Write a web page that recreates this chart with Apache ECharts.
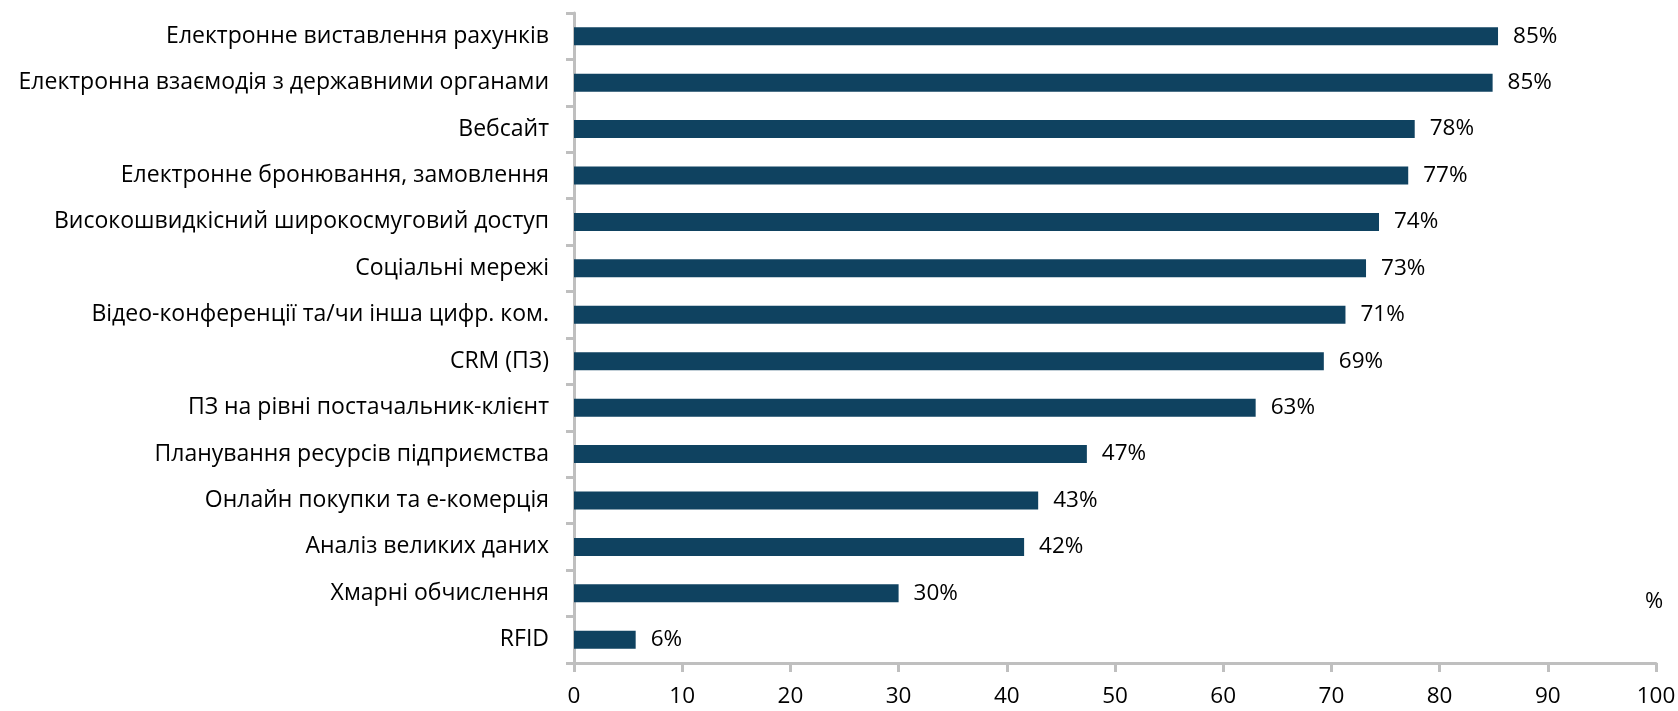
<!DOCTYPE html>
<html>
<head>
<meta charset="utf-8">
<script src="https://cdn.jsdelivr.net/npm/echarts@6/dist/echarts.min.js"></script>
<style>
  html, body { margin: 0; padding: 0; background: #fff; }
  #chart { width: 1678px; height: 711px; }
</style>
</head>
<body>
<div id="chart"></div>
<script>
  // категорії зверху вниз
  const categories = [
    'Електронне виставлення рахунків',
    'Електронна взаємодія з державними органами',
    'Вебсайт',
    'Електронне бронювання, замовлення',
    'Високошвидкісний широкосмуговий доступ',
    'Соціальні мережі',
    'Відео-конференції та/чи інша цифр. ком.',
    'CRM (ПЗ)',
    'ПЗ на рівні постачальник-клієнт',
    'Планування ресурсів підприємства',
    'Онлайн покупки та е-комерція',
    'Аналіз великих даних',
    'Хмарні обчислення',
    'RFID'
  ]
  const values = [85.4, 84.9, 77.7, 77.1, 74.4, 73.2, 71.3, 69.3, 63.0, 47.4, 42.9, 41.6, 30.0, 5.7]
  const xTicks = [0, 10, 20, 30, 40, 50, 60, 70, 80, 90, 100]

  const fontFamily = '"Open Sans", "Noto Sans", sans-serif'
  const axisColor = '#bfbfbf'

  const myChart = echarts.init(document.getElementById('chart'))
  const option = {
    animation: false,
    grid: {
      left: 574,
      right: 22,
      top: 13,
      bottom: 48,
      containLabel: false,
      outerBoundsMode: 'none'
    },
    xAxis: {
      type: 'value',
      min: xTicks[0],
      max: xTicks[xTicks.length - 1],
      interval: 10,
      name: '%',
      nameLocation: 'end',
      nameGap: -2,
      nameTextStyle: {
        color: '#000',
        fontSize: 22,
        fontFamily: fontFamily,
        align: 'center',
        verticalAlign: 'bottom',
        padding: [0, 0, 50, 0]
      },
      axisLine: { show: true, lineStyle: { color: axisColor, width: 3 } },
      axisTick: { show: true, length: 9, lineStyle: { color: axisColor, width: 3 } },
      axisLabel: { color: '#000', fontSize: 22.5, fontFamily: fontFamily, margin: 22 },
      splitLine: { show: false }
    },
    yAxis: {
      type: 'category',
      inverse: true,
      data: categories,
      axisLine: { show: true, lineStyle: { color: axisColor, width: 3 } },
      axisTick: { show: true, length: 8, lineStyle: { color: axisColor, width: 3 } },
      axisLabel: { color: '#000', fontSize: 23, fontFamily: fontFamily, margin: 25 }
    },
    series: [{
      type: 'bar',
      data: values,
      barWidth: 18,
      itemStyle: { color: '#0f4260' },
      label: {
        show: true,
        position: 'right',
        distance: 15,
        color: '#000',
        fontSize: 22.5,
        fontFamily: fontFamily,
        formatter: function (p) { return Math.round(p.value) + '%' }
      }
    }]
  }
  myChart.setOption(option)
</script>
</body>
</html>
